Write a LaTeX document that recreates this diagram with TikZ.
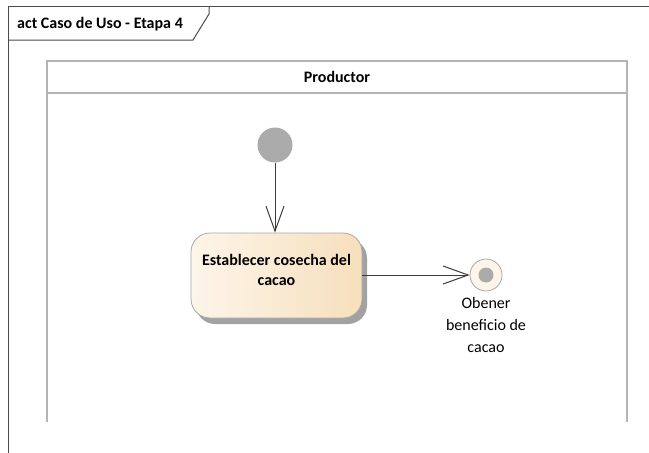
\documentclass[tikz,border=0pt]{standalone}
\usepackage{fontspec}
\setmainfont{Carlito}
\usetikzlibrary{arrows.meta}
\definecolor{framegray}{HTML}{4A4A4A}
\definecolor{lanegray}{HTML}{B4B4B4}
\definecolor{initgray}{HTML}{ABABAB}
\definecolor{actborder}{HTML}{A8A8A8}
\definecolor{creamL}{HTML}{FDF5EA}
\definecolor{creamR}{HTML}{F6DFBC}
\definecolor{shadowgray}{HTML}{A2A2A2}
\definecolor{flowline}{HTML}{3C3C3C}
\tikzset{
  frameline/.style={draw=framegray, line width=1pt},
  laneline/.style={draw=lanegray, line width=2.6pt},
  titletext/.style={font=\fontsize{16}{19}\selectfont\bfseries, inner sep=0pt},
  initnode/.style={circle, fill=initgray, minimum size=35pt, inner sep=0pt},
  actnode/.style={rectangle, rounded corners=19pt, draw=actborder, line width=0.8pt,
    left color=creamL, right color=creamR, minimum width=171pt, minimum height=85pt},
  acttext/.style={align=center, inner sep=0pt, font=\fontsize{16}{20}\selectfont\bfseries},
  shadowbox/.style={fill=shadowgray, rounded corners=19pt},
  finalnode/.style={circle, draw=actborder, line width=0.8pt, fill=creamL,
    minimum size=32pt, inner sep=0pt},
  finaldot/.style={circle, fill=initgray, minimum size=15pt, inner sep=0pt},
  flow/.style={draw=flowline, line width=1pt,
    -{Straight Barb[length=25pt, width=18pt, line width=1pt]}},
}
\begin{document}
\begin{tikzpicture}[x=1pt, y=-1pt]
  \useasboundingbox (0,0) rectangle (649,453);
  % diagram frame with its name tab
  \draw[frameline] (8,453) -- (8,6) -- (649,6);
  \draw[frameline] (209,6) -- (209,14) -- (193,40) -- (8,40);
  \node[titletext, anchor=west] (title) at (17,24) {act Caso de Uso - Etapa 4};
  % swimlane
  \draw[laneline] (47,422) -- (47,61) -- (627,61) -- (627,422);
  \draw[laneline] (47,93) -- (627,93);
  \node[titletext] (lane) at (337,77) {Productor};
  % activity flow
  \node[initnode] (init) at (275,145) {};
  \path[shadowbox] (196,239) rectangle (367,324);
  \node[actnode] (act) at (276.5,275.5) {};
  \node[acttext] (actlabel) at (276.5,270) {Establecer cosecha del\\cacao};
  \node[finalnode] (final) at (486,275) {};
  \node[finaldot] (finaldot) at (final.center) {};
  \node[font=\fontsize{16}{22}\selectfont, align=center, anchor=north, inner sep=0pt]
    (finallabel) at (486,297) {Obener\\beneficio de\\cacao};
  \draw[flow] (init) -- (init |- act.north);
  \draw[flow] (act.east |- final) -- (final);
\end{tikzpicture}
\end{document}
